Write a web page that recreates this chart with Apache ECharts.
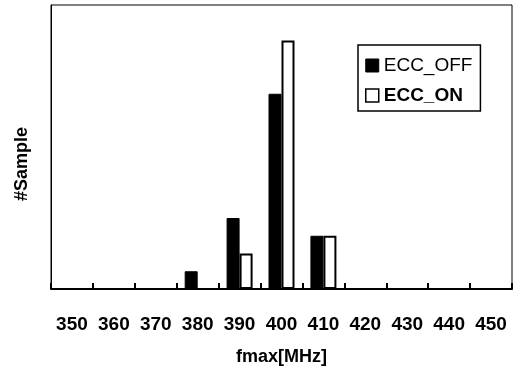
<!DOCTYPE html>
<html>
<head>
<meta charset="utf-8">
<script src="https://cdn.jsdelivr.net/npm/echarts@6/dist/echarts.min.js"></script>
<style>html,body{margin:0;padding:0;background:#fff;}#c{width:517px;height:370px;}</style>
</head>
<body>
<div id="c"></div>
<script>
const categories = ['350','360','370','380','390','400','410','420','430','440','450'];
const eccOff = [0, 0, 0, 1, 4, 11, 3, 0, 0, 0, 0];
const eccOn  = [0, 0, 0, 0, 2, 14, 3, 0, 0, 0, 0];
const seriesNames = ['ECC_OFF', 'ECC_ON'];
const xName = 'fmax[MHz]';
const yName = '#Sample';

const chart = echarts.init(document.getElementById('c'), null, {renderer: 'canvas'});
const font = 'Arial, "Liberation Sans", sans-serif';
chart.setOption({
  animation: false,
  backgroundColor: '#fff',
  grid: {left: 51, right: 5, top: 5, bottom: 81, outerBoundsMode: 'none', containLabel: false,
         show: true, borderColor: '#000', borderWidth: 1, backgroundColor: 'transparent'},
  legend: {
    orient: 'vertical',
    left: 358, top: 45,
    padding: [11, 8, 6, 7],
    borderColor: '#000', borderWidth: 1.5, backgroundColor: '#fff',
    itemWidth: 13, itemHeight: 13, itemGap: 11,
    icon: 'rect',
    data: [
      {name: seriesNames[0], itemStyle: {color: '#000', borderColor: '#000', borderWidth: 1}},
      {name: seriesNames[1], itemStyle: {color: '#fff', borderColor: '#000', borderWidth: 1.5}}
    ],
    formatter: n => n === 'ECC_ON' ? '{b|' + n + '}' : '{n|' + n + '}',
    textStyle: {
      fontFamily: font, fontSize: 19, color: '#000', padding: [0,0,0,0],
      rich: {n: {fontFamily: font, fontSize: 19, fontWeight: 'normal', color: '#000'},
             b: {fontFamily: font, fontSize: 19, fontWeight: 'bold', color: '#000'}}
    }
  },
  xAxis: {
    type: 'category', data: categories,
    name: xName, nameLocation: 'middle', nameGap: 59,
    nameTextStyle: {fontFamily: font, fontSize: 18, fontWeight: 'bold', color: '#000'},
    axisLine: {lineStyle: {color: '#000', width: 2}},
    axisTick: {show: true, inside: true, length: 6, lineStyle: {color: '#000', width: 2}},
    axisLabel: {margin: 26, fontFamily: font, fontSize: 19, fontWeight: 'bold', color: '#000', interval: 0}
  },
  yAxis: {
    type: 'value', min: 0, max: 16,
    axisLine: {show: true, lineStyle: {color: '#000', width: 1}},
    axisTick: {show: false}, axisLabel: {show: false}, splitLine: {show: false}
  },
  graphic: [{
    type: 'text', x: 22, y: 164, rotation: Math.PI / 2,
    style: {text: yName, font: 'bold 18px Arial, "Liberation Sans", sans-serif', fill: '#000', align: 'center', verticalAlign: 'middle'}
  }],
  series: [
    {name: seriesNames[0], type: 'bar', data: eccOff, barWidth: 13, barGap: '0%',
     itemStyle: {color: '#000', borderColor: '#000', borderWidth: 1}},
    {name: seriesNames[1], type: 'bar', data: eccOn, barWidth: 13,
     itemStyle: {color: '#fff', borderColor: '#000', borderWidth: 2}}
  ]
});
</script>
</body>
</html>
